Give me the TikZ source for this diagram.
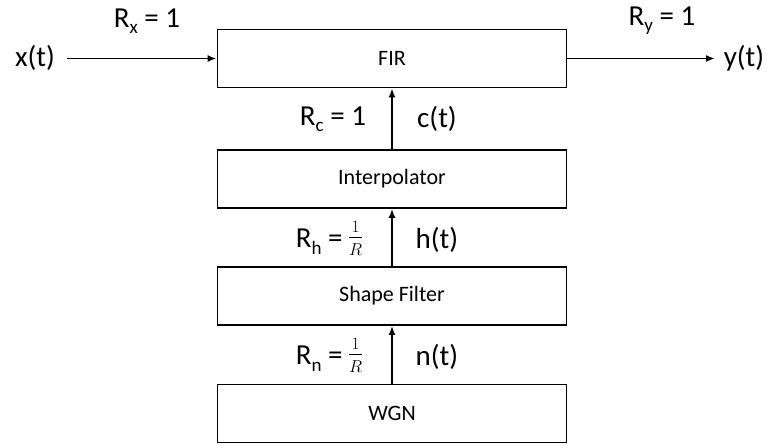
\documentclass[tikz,border=0pt]{standalone}
\usepackage{fontspec}
\setmainfont{Carlito}
\usetikzlibrary{arrows.meta}
\newcommand\lowsub[1]{\raisebox{-0.22em}{\fontsize{19}{22}\selectfont #1}}
% small stacked fraction 1/R
\newcommand\rfrac{\raisebox{0.12em}{\fontsize{19}{19}\selectfont
  $\vcenter{\hbox{\begin{tabular}{@{}c@{}}$1$\\[-0.05em]\hline\rule{0pt}{0.95em}$R$\end{tabular}}}$}}
\begin{document}
\begin{tikzpicture}[x=1pt,y=1pt,
  block/.style={draw,line width=1.8pt,minimum width=349pt,minimum height=58pt,
    inner sep=0pt,font=\fontsize{22}{26}\selectfont},
  sig/.style={font=\fontsize{29}{34}\selectfont,inner sep=0pt},
  flow/.style={line width=1.8pt,-{Latex[length=9pt,width=7pt]}}]
\useasboundingbox (0,0) rectangle (769,445);
% processing chain, bottom to top
\node[block] (fir) at (392,386.5) {FIR};
\node[block] (interp) at (392,266) {Interpolator};
\node[block] (shape) at (392,149) {Shape Filter};
\node[block] (wgn) at (392,31.5) {WGN};
% input and output
\node[sig] (x) at (35,387) {x(t)};
\node[sig] (y) at (744,387) {y(t)};
\coordinate (xin) at (67,386.5);
\coordinate (yout) at (715,386.5);
\draw[flow] (xin) -- (fir.west);
\draw[flow] (fir.east) -- (yout);
\node[sig] (rx) at (147,424) {R\lowsub{x} = 1};
\node[sig] (ry) at (662,424) {R\lowsub{y} = 1};
% internal signals
\draw[flow] (wgn.north) -- (shape.south);
\draw[flow] (shape.north) -- (interp.south);
\draw[flow] (interp.north) -- (fir.south);
\node[sig] (rn) at (329,88) {R\lowsub{n} = \rfrac};
\node[sig] (nt) at (437,88) {n(t)};
\node[sig] (rh) at (329,205) {R\lowsub{h} = \rfrac};
\node[sig] (ht) at (437,205) {h(t)};
\node[sig] (rc) at (333,326) {R\lowsub{c} = 1};
\node[sig] (ct) at (437,326) {c(t)};
\end{tikzpicture}
\end{document}
